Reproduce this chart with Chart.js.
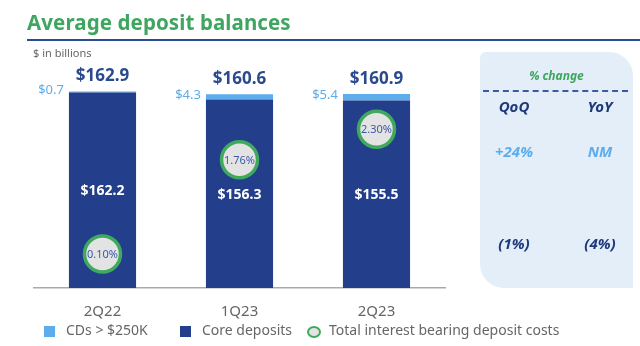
<!DOCTYPE html>
<html>
<head>
<meta charset="utf-8">
<script src="https://cdn.jsdelivr.net/npm/chart.js@4.4.0/dist/chart.umd.min.js"></script>
<style>
  body { margin: 0; width: 640px; height: 346px; overflow: hidden; background: #fff; position: relative; font-family: "Noto Sans", sans-serif; }
  #chart { position: absolute; left: 0; top: 0; }
  .abs { position: absolute; white-space: nowrap; }
  #title { left: 27px; top: 8px; font-size: 20.5px; font-weight: bold; color: #3fa65f; letter-spacing: 0.1px; }
  #rule { left: 27px; top: 39px; width: 613px; height: 2px; background: #2b4a9a; }
  #unit { left: 33px; top: 45px; font-size: 11px; color: #666; }
  #panel { left: 480px; top: 52px; width: 153px; height: 236px; background: #e3eef9; border-radius: 6px 24px 0 24px; }
  #pct { left: 480px; width: 153px; top: 67px; text-align: center; font-size: 12px; font-weight: bold; font-style: italic; color: #3fa65f; }
  #dash { left: 483px; top: 90px; width: 145px; border-top: 2px dashed #3b5aa0; }
  .hdr, .val { width: 70px; text-align: center; font-weight: bold; font-style: italic; font-size: 15px; }
  .hdr { color: #1f3a7a; }
  .legend-box { position: absolute; width: 11px; height: 11px; top: 326px; }
  .legend-txt { position: absolute; top: 320px; font-size: 14px; color: #666; }
</style>
</head>
<body>
<canvas id="chart" width="640" height="346"></canvas>
<div class="abs" id="title">Average deposit balances</div>
<div class="abs" id="rule"></div>
<div class="abs" id="unit">$ in billions</div>
<div class="abs" id="panel"></div>
<div class="abs" id="pct">% change</div>
<div class="abs" id="dash"></div>
<div id="changes"></div>
<div id="legend"></div>
<script>
// chart data
const quarters = ['2Q22', '1Q23', '2Q23'];
const coreDeposits = [162.2, 156.3, 155.5];
const cdsOver250k = [0.7, 4.3, 5.4];
const depositCosts = [0.10, 1.76, 2.30];

// % change table
const changeHeaders = ['QoQ', 'YoY'];
const cdsChange = ['+24%', 'NM'];
const coreChange = ['(1%)', '(4%)'];

const colCore = '#233f8c';
const colCds = '#5dadec';
const colRing = '#3faa5e';

const labelPlugin = {
    id: 'barLabels',
    afterDatasetsDraw(chart) {
        const ctx = chart.ctx;
        const core = chart.getDatasetMeta(0);
        const cds = chart.getDatasetMeta(1);
        const cost = chart.getDatasetMeta(2);
        ctx.save();
        ctx.textBaseline = 'middle';
        core.data.forEach(function(bar, i) {
            const top = cds.data[i];
            const total = coreDeposits[i] + cdsOver250k[i];

            ctx.textAlign = 'center';
            ctx.font = 'bold 17px "Noto Sans"';
            ctx.fillStyle = '#2a4a8f';
            ctx.fillText('$' + total.toFixed(1), bar.x, top.y - 15);

            ctx.textAlign = 'right';
            ctx.font = '13px "Noto Sans"';
            ctx.fillStyle = colCds;
            ctx.fillText('$' + cdsOver250k[i].toFixed(1), top.x - top.width / 2 - 5, (top.y + top.base) / 2 - 2);

            ctx.textAlign = 'center';
            ctx.font = 'bold 14px "Noto Sans"';
            ctx.fillStyle = '#fff';
            ctx.fillText('$' + coreDeposits[i].toFixed(1), bar.x, (bar.y + bar.base) / 2 + 1);

            const pt = cost.data[i];
            ctx.font = '11px "Noto Sans"';
            ctx.fillStyle = '#3d5aa8';
            ctx.fillText(depositCosts[i].toFixed(2) + '%', pt.x, pt.y + 1);
        });
        ctx.restore();
    }
};

new Chart(document.getElementById('chart'), {
    data: {
        labels: quarters,
        datasets: [
            { type: 'bar', label: 'Core deposits', data: coreDeposits, backgroundColor: colCore, stack: 's', order: 1 },
            { type: 'bar', label: 'CDs > $250K', data: cdsOver250k, backgroundColor: colCds, stack: 's', order: 1 },
            {
                type: 'line', label: 'Total interest bearing deposit costs', data: depositCosts, yAxisID: 'y1',
                showLine: false, order: 0, clip: false,
                pointRadius: 18, pointBorderWidth: 3.5,
                pointBackgroundColor: '#e3e3e3', pointBorderColor: colRing
            }
        ]
    },
    options: {
        responsive: false,
        animation: false,
        events: [],
        layout: { padding: { left: 34, right: 195, top: 77, bottom: 18 } },
        datasets: { bar: { barPercentage: 0.49, categoryPercentage: 1 } },
        plugins: { legend: { display: false }, tooltip: { enabled: false } },
        scales: {
            x: {
                stacked: true,
                grid: { display: false },
                border: { display: true, color: '#aaa', width: 1.5 },
                ticks: { color: '#666', font: { family: 'Noto Sans', size: 15 }, padding: 7 },
                afterFit: function(s) { s.height = 40; }
            },
            y: { stacked: true, display: false, min: 0, max: 175 },
            y1: { display: false, min: -0.5, max: 3.22 }
        }
    },
    plugins: [labelPlugin]
});

// % change panel
const xs = [479, 565];
const changes = document.getElementById('changes');
function addCell(text, x, y, cls, color) {
    const d = document.createElement('div');
    d.className = 'abs ' + cls;
    d.style.left = x + 'px';
    d.style.top = y + 'px';
    if (color) d.style.color = color;
    d.textContent = text;
    changes.appendChild(d);
}
changeHeaders.forEach(function(h, i) { addCell(h, xs[i], 96, 'hdr'); });
cdsChange.forEach(function(v, i) { addCell(v, xs[i], 141, 'val', colCds); });
coreChange.forEach(function(v, i) { addCell(v, xs[i], 233, 'val', '#1f3a7a'); });

// legend
const legend = document.getElementById('legend');
[
    { x: 44, tx: 66, text: 'CDs > $250K', style: 'background:' + colCds },
    { x: 180, tx: 202, text: 'Core deposits', style: 'background:' + colCore },
    { x: 307, tx: 329, text: 'Total interest bearing deposit costs',
      style: 'width:10px;height:8px;border:2px solid ' + colRing + ';border-radius:50%;background:#e3e3e3' }
].forEach(function(it) {
    const b = document.createElement('div');
    b.className = 'legend-box';
    b.style.cssText = it.style;
    b.style.left = it.x + 'px';
    legend.appendChild(b);
    const t = document.createElement('div');
    t.className = 'legend-txt';
    t.style.left = it.tx + 'px';
    t.textContent = it.text;
    legend.appendChild(t);
});
</script>
</body>
</html>
